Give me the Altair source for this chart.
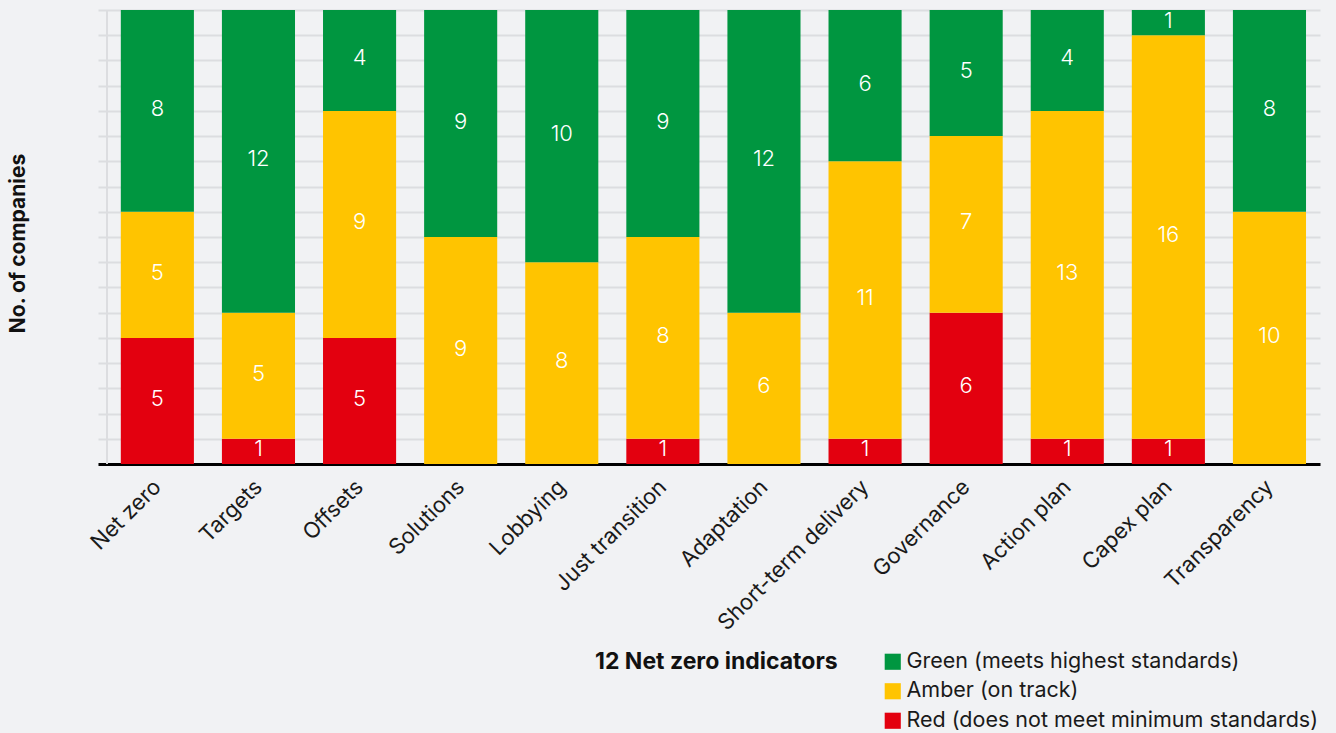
import altair as alt
import pandas as pd

categories = ["Net zero", "Targets", "Offsets", "Solutions", "Lobbying", "Just transition",
              "Adaptation", "Short-term delivery", "Governance", "Action plan", "Capex plan", "Transparency"]
red_vals = [5, 1, 5, 0, 0, 1, 0, 1, 6, 1, 1, 0]
amber_vals = [5, 5, 9, 9, 8, 8, 6, 11, 7, 13, 16, 10]
green_vals = [8, 12, 4, 9, 10, 9, 12, 6, 5, 4, 1, 8]
status_names = ["Green (meets highest standards)", "Amber (on track)", "Red (does not meet minimum standards)"]
status_colors = ["#009640", "#FFC400", "#E3000F"]
legend_title = "12 Net zero indicators"
y_ticks = list(range(0, 19))

rows = []
for i, c in enumerate(categories):
    for name, vals, order in [(status_names[2], red_vals, 0), (status_names[1], amber_vals, 1), (status_names[0], green_vals, 2)]:
        rows.append({"indicator": c, "status": name, "count": vals[i], "order": order})
df = pd.DataFrame(rows)

FONT = "Inter"
W, H = 1222, 454

xscale = alt.Scale(paddingInner=0.277, paddingOuter=0.182, align=0.62)
yscale = alt.Scale(domain=[0, 18], nice=False)

x_axis = alt.Axis(title=None, labelAngle=-45, labelAlign="right", labelBaseline="middle",
                  labelFontSize=22, labelFont=FONT, labelColor="#1a1a1a", labelPadding=19,
                  labelLimit=400, ticks=False, domainColor="#000000", domainWidth=3, grid=False)
y_axis = alt.Axis(values=y_ticks, labels=False, ticks=False, domain=False,
                  grid=True, gridColor="#dcdde0", gridWidth=2,
                  title="No. of companies", titleFont=FONT, titleFontSize=21, titleFontWeight="bold",
                  titleColor="#111111", titleX=-80, titleY=H / 2 + 6, titleAngle=-90,
                  titleAlign="center", titleBaseline="middle")

bars = alt.Chart(df).mark_bar().encode(
    x=alt.X("indicator:N", sort=categories, scale=xscale, axis=x_axis),
    y=alt.Y("count:Q", stack="zero", scale=yscale, axis=y_axis),
    color=alt.Color("status:N", scale=alt.Scale(domain=status_names, range=status_colors),
                    legend=alt.Legend(title=None, orient="none", legendX=784, legendY=641,
                                      symbolType="square", symbolSize=260, symbolStrokeWidth=0,
                                      labelFont=FONT, labelFontSize=21.5, labelColor="#1a1a1a",
                                      rowPadding=6.5, labelOffset=3, labelLimit=600)),
    order=alt.Order("order:Q", sort="ascending"),
)

vline = alt.Chart(df).mark_rule(color="#dcdde0", strokeWidth=2).encode(
    x=alt.value(9), y=alt.value(0), y2=alt.value(H))

labels = alt.Chart(df).transform_filter("datum.count > 0").transform_stack(
    stack="count", groupby=["indicator"], as_=["y0", "y1"], sort=[alt.SortField("order", order="ascending")]
).transform_calculate(mid="(datum.y0 + datum.y1) / 2").mark_text(
    color="white", fontSize=22, font=FONT, fontWeight=300, baseline="middle", align="center", dy=-2
).encode(
    x=alt.X("indicator:N", sort=categories, scale=xscale, axis=x_axis),
    y=alt.Y("mid:Q", scale=yscale, axis=y_axis),
    text=alt.Text("count:Q"),
)

title_txt = alt.Chart(pd.DataFrame({"t": [legend_title]})).mark_text(
    font=FONT, fontSize=23, fontWeight="bold", color="#111111", align="left", baseline="middle"
).encode(x=alt.value(497), y=alt.value(652), text="t:N")

chart = alt.layer(vline, bars, labels, title_txt).properties(
    width=W, height=H,
    autosize=alt.AutoSizeParams(type="none"),
    padding={"left": 98, "top": 10, "right": 16, "bottom": 269},
    background="#f1f2f4",
).configure_view(stroke=None)

chart.save("out.html", embed_options={"renderer": "svg", "actions": False})
